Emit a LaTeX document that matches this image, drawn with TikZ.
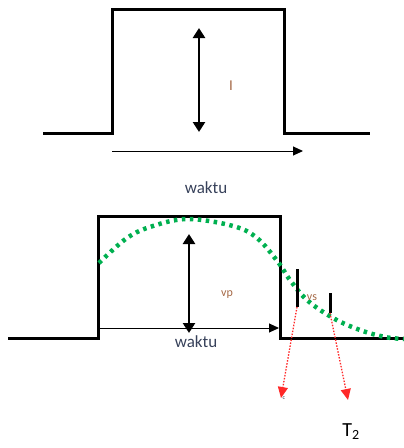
\documentclass[tikz,border=0pt]{standalone}
\usepackage{fontspec}
\setmainfont{Carlito}
\usetikzlibrary{arrows.meta}
\definecolor{txtblue}{RGB}{55,65,90}
\definecolor{txtorange}{RGB}{165,105,70}
\definecolor{dotgreen}{RGB}{0,176,80}
\definecolor{dotred}{RGB}{255,40,40}
\tikzset{
  pulse/.style={line width=3pt, line join=miter},
  bigarrow/.style={line width=2.6pt, {Triangle[length=10pt,width=12pt]}-{Triangle[length=10pt,width=12pt]}},
  timearrow/.style={line width=1pt, -{Triangle[length=10pt,width=9pt]}},
  tick/.style={line width=3pt},
  redarrow/.style={dotred, line width=1.3pt, dash pattern=on 1.5pt off 1.5pt, -{Triangle[length=11pt,width=10pt]}},
  gauss/.style={dotgreen, line width=4.5pt, dash pattern=on 3.5pt off 4.5pt},
  lbl/.style={inner sep=0pt, font=\fontsize{17}{17}\selectfont, text=txtblue},
  small/.style={inner sep=0pt, font=\fontsize{12}{12}\selectfont, text=txtorange},
}
\begin{document}
\begin{tikzpicture}[x=1pt,y=-1pt]
\useasboundingbox (0,0) rectangle (404,448);
% top pulse
\coordinate (a1) at (43,133);
\coordinate (a2) at (112,133);
\coordinate (a3) at (112,9);
\coordinate (a4) at (284,9);
\coordinate (a5) at (284,133);
\coordinate (a6) at (370,133);
\draw[pulse] (a1) -- (a2) -- (a3) -- (a4) -- (a5) -- (a6);
\coordinate (i1) at (199,28);
\coordinate (i2) at (199,132);
\draw[bigarrow] (i1) -- (i2);
\node[small, font=\fontsize{15}{15}\selectfont] (I) at (231,86) {I};
\coordinate (t1) at (112,151);
\coordinate (t2) at (303,151);
\draw[timearrow] (t1) -- (t2);
\node[lbl] (w1) at (206,188) {waktu};
% bottom pulse
\coordinate (b1) at (8,338);
\coordinate (b2) at (98,338);
\coordinate (b3) at (98,216);
\coordinate (b4) at (280,216);
\coordinate (b5) at (280,338);
\coordinate (b6) at (404,338);
\draw[pulse] (b1) -- (b2) -- (b3) -- (b4) -- (b5) -- (b6);
% green gaussian
\draw[gauss] plot[smooth, tension=0.6] coordinates {(99,263) (127,238) (153,226) (188,219) (233,226) (257,238) (278,262) (290,280) (307,300) (333,318) (360,330) (385,337) (404,339)};
% arrows
\coordinate (v1) at (189,333);
\coordinate (v2) at (189,234);
\draw[bigarrow] (v1) -- (v2);
\coordinate (h1) at (98,328);
\coordinate (h2) at (279,328);
\draw[timearrow] (h1) -- (h2);
\node[lbl] (w2) at (196,342) {waktu};
\node[small] (vp) at (227,295) {vp};
\node[small] (vs) at (312,298) {vs};
% ticks
\coordinate (k1a) at (297,269);
\coordinate (k1b) at (297,307);
\coordinate (k2a) at (330,293);
\coordinate (k2b) at (330,313);
\draw[tick] (k1a) -- (k1b);
\draw[tick] (k2a) -- (k2b);
% red arrows
\coordinate (r1) at (281,398);
\coordinate (r2) at (348,400);
\draw[redarrow] (k1b) -- (r1);
\draw[redarrow] (k2b) -- (r2);
\node[inner sep=0pt, font=\fontsize{6}{6}\selectfont, text=txtblue] (c1) at (284,398) {c};
\node[inner sep=0pt, font=\fontsize{20}{20}\selectfont] (T2) at (351,432) {T\textsubscript{2}};
\end{tikzpicture}
\end{document}
